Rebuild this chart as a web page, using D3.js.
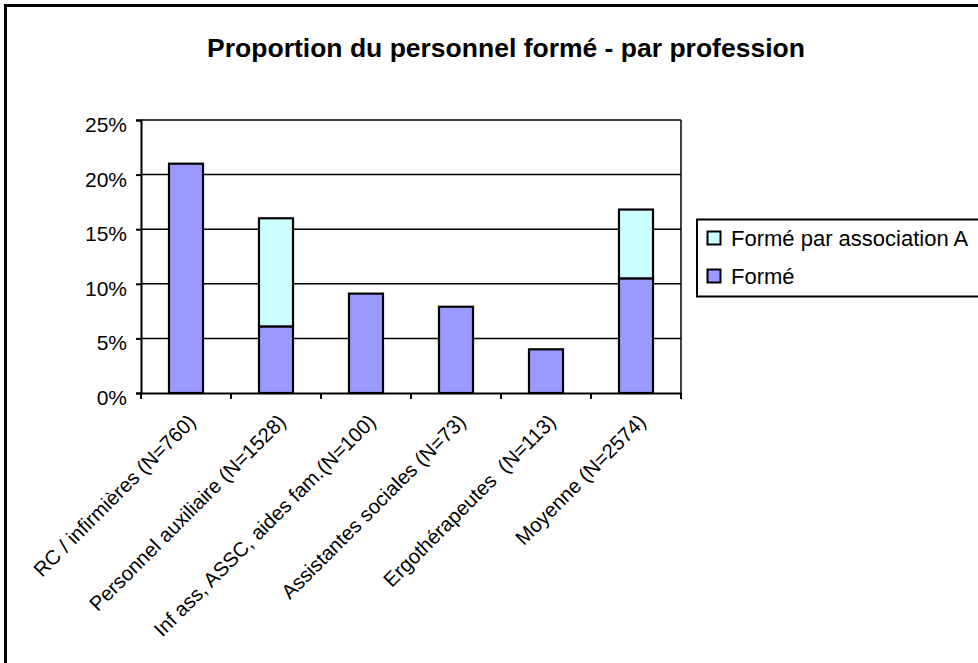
<!DOCTYPE html>
<html><head><meta charset="utf-8">
<script src="https://cdn.jsdelivr.net/npm/d3@7"></script>
<style>
html,body{margin:0;padding:0;background:#fff;overflow:hidden}
svg{display:block;font-family:"Liberation Sans",Arial,sans-serif}
</style></head><body>
<svg id="c" width="978" height="663"></svg>
<script>
const categories = ["RC / infirmières (N=760)", "Personnel auxiliaire (N=1528)", "Inf ass, ASSC, aides fam.(N=100)", "Assistantes sociales (N=73)", "Ergothérapeutes  (N=113)", "Moyenne (N=2574)"];
const forme = [0.210, 0.061, 0.091, 0.079, 0.040, 0.105];
const formeAssoc = [0, 0.099, 0, 0, 0, 0.063];
const yTicks = [0, 0.05, 0.10, 0.15, 0.20, 0.25];
const seriesNames = ["Formé", "Formé par association A"];
const colors = {"Formé": "#9999FF", "Formé par association A": "#CCFFFF"};
const title = "Proportion du personnel formé - par profession";

const svg = d3.select("#c");
// outer border
svg.append("rect").attr("x", 5.5).attr("y", 5.5).attr("width", 1000).attr("height", 700)
  .attr("fill", "#fff").attr("stroke", "#000").attr("stroke-width", 3);

svg.append("text").attr("x", 506).attr("y", 57).attr("text-anchor", "middle")
  .attr("font-weight", "bold").attr("font-size", 26.5).text(title);

const L = 141, R = 681, T = 120, B = 393;
const x = d3.scaleBand().domain(categories).range([L, R]).paddingInner(0.622).paddingOuter(0.311);
const y = d3.scaleLinear().domain([0, 0.25]).range([B, T]);

// gridlines
svg.append("g").selectAll("line").data(yTicks.filter(d => d > 0)).join("line")
  .attr("x1", L).attr("x2", R).attr("y1", d => y(d)).attr("y2", d => y(d))
  .attr("stroke", "#000").attr("stroke-width", 1.5);
// right border
svg.append("line").attr("x1", R).attr("x2", R).attr("y1", T).attr("y2", B)
  .attr("stroke", "#000").attr("stroke-width", 1.5);

// stacked bars
const data = categories.map((c, i) => ({cat: c, "Formé": forme[i], "Formé par association A": formeAssoc[i]}));
const stack = d3.stack().keys(seriesNames)(data);
stack.forEach(layer => {
  svg.append("g").selectAll("rect").data(layer.filter(d => d[1] - d[0] > 0)).join("rect")
    .attr("x", d => x(d.data.cat)).attr("width", x.bandwidth())
    .attr("y", d => y(d[1])).attr("height", d => y(d[0]) - y(d[1]))
    .attr("fill", colors[layer.key]).attr("stroke", "#000").attr("stroke-width", 2.2);
});

// y axis
const yAxis = d3.axisLeft(y).tickValues(yTicks).tickFormat(d3.format(".0%")).tickSize(5).tickPadding(9);
const gy = svg.append("g").attr("transform", `translate(${L},0)`).call(yAxis);
gy.select(".domain").attr("stroke-width", 2);
gy.selectAll(".tick line").attr("stroke-width", 2);
gy.selectAll("text").attr("font-size", 21).attr("font-family", '"Liberation Sans",Arial,sans-serif').attr("fill", "#000").attr("dy", "0.55em");

// x axis
const xAxis = d3.axisBottom(x).tickSize(0).tickFormat("");
const gx = svg.append("g").attr("transform", `translate(0,${B})`).call(xAxis);
gx.select(".domain").attr("stroke-width", 2);
const step = x.step();
const boundaries = d3.range(categories.length + 1).map(i => L + i * step);
gx.selectAll(".bnd").data(boundaries).join("line").attr("class", "bnd")
  .attr("x1", d => d).attr("x2", d => d).attr("y1", 0).attr("y2", 6)
  .attr("stroke", "#000").attr("stroke-width", 2);
gx.selectAll(".lbl").data(categories).join("text").attr("class", "lbl")
  .attr("transform", d => `translate(${x(d) + x.bandwidth() / 2 + 11},${30}) rotate(-45)`)
  .attr("text-anchor", "end").attr("font-size", 20.3).attr("fill", "#000")
  .attr("font-family", '"Liberation Sans",Arial,sans-serif')
  .style("white-space", "pre").text(d => d);

// legend
const lg = svg.append("g");
lg.append("rect").attr("x", 697).attr("y", 219.5).attr("width", 400).attr("height", 77)
  .attr("fill", "#fff").attr("stroke", "#000").attr("stroke-width", 2);
const legendItems = ["Formé par association A", "Formé"];
legendItems.forEach((k, i) => {
  lg.append("rect").attr("x", 707.5).attr("y", 231.5 + i * 38).attr("width", 13).attr("height", 13)
    .attr("fill", colors[k]).attr("stroke", "#000").attr("stroke-width", 2);
  lg.append("text").attr("x", 731).attr("y", 246 + i * 38).attr("font-size", 22).text(k);
});
</script>
</body></html>
